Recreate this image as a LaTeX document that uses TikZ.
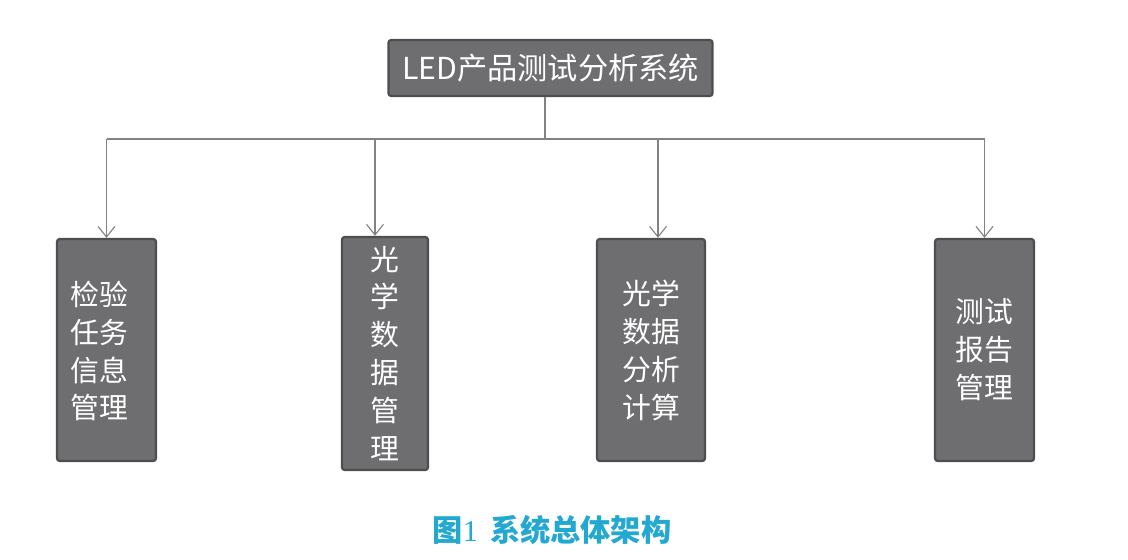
\documentclass[tikz,border=0pt]{standalone}
\usepackage{fontspec}
\setmainfont{Noto Sans CJK SC}
\newfontfamily\numfont{Liberation Serif}
\usetikzlibrary{arrows.meta, positioning}
\definecolor{boxgray}{RGB}{110, 110, 113}
\definecolor{boxedge}{RGB}{78, 78, 81}
\definecolor{linegray}{RGB}{130, 130, 130}
\definecolor{captionblue}{RGB}{35, 168, 208}

\tikzset{
    modbox/.style={fill=boxgray, draw=boxedge, line width=1.6pt, rounded corners=2pt,
          text=white, align=center, inner sep=0pt, font=\fontsize{20.5}{27}\selectfont},
    link/.style={draw=linegray, line width=0.8pt},
    drop/.style={link, -{Straight Barb[length=7.5pt, width=12pt]}}
}

\begin{document}
\begin{tikzpicture}[x=0.025cm, y=-0.025cm]
    \useasboundingbox (0,0) rectangle (1128,559);
    % top level
    \node[modbox, minimum width=8.1cm, minimum height=1.4cm,
          font=\fontsize{21.5}{25}\selectfont] (sys) at (550.5,68) {LED产品测试分析系统};
    % modules
    \node[modbox, minimum width=2.475cm, minimum height=5.55cm] (task) at (106.5,350) {};
    \node[modbox, fill=none, draw=none] (tasktext) at (99,351) {检验\\任务\\信息\\管理};
    \node[modbox, minimum width=2.15cm, minimum height=5.825cm] (optdata) at (385,353.5) {光\\学\\数\\据\\管\\理};
    \node[modbox, minimum width=2.7cm, minimum height=5.55cm] (calc) at (651,350) {光学\\数据\\分析\\计算};
    \node[modbox, minimum width=2.475cm, minimum height=5.55cm] (report) at (984.5,350) {测试\\报告\\管理};
    % connectors
    \coordinate (hub) at (545,139);
    \draw[link] (sys.south -| hub) -- (hub);
    \draw[link] (hub -| task.north) -- (hub -| report.north);
    \draw[drop] (hub -| task.north) -- (task.north);
    \draw[drop] ([xshift=-0.25cm]optdata.north |- hub) -- ([xshift=-0.25cm]optdata.north);
    \draw[drop] ([xshift=0.175cm]calc.north |- hub) -- ([xshift=0.175cm]calc.north);
    \draw[drop] (hub -| report.north) -- (report.north);
    % caption
    \node[text=captionblue, font=\fontsize{21.5}{25}\selectfont\bfseries] (caption) at (552,530)
        {图{\numfont\mdseries 1}\hspace{0.4em}系统总体架构};
\end{tikzpicture}
\end{document}
